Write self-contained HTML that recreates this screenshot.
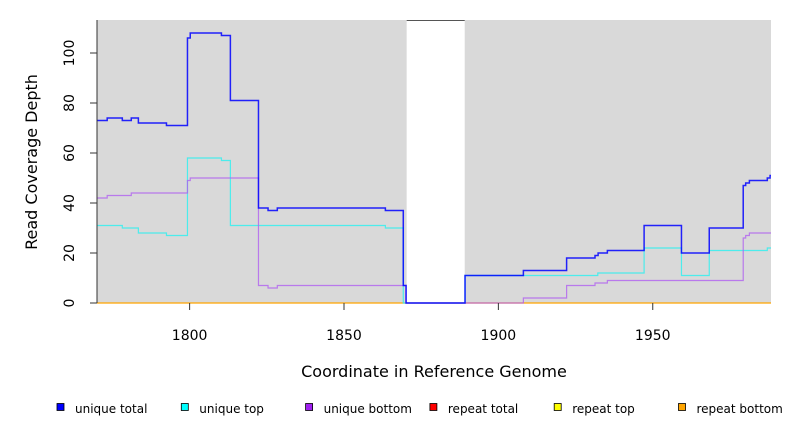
<!DOCTYPE html>
<html><head><meta charset="utf-8"><style>
body{margin:0;background:#fff;}
svg{display:block;font-family:"DejaVu Sans","Liberation Sans",sans-serif;}
</style></head><body>
<svg id="chart" width="792" height="432" viewBox="0 0 792 432">
<rect x="97" y="20" width="674" height="283" fill="#d9d9d9"/>
<rect id="gap" fill="#fff"/>
<line id="gapline" stroke="#555" stroke-width="1"/>
<g id="series"></g>
<g id="axes"></g>
<text x="434" y="377" font-size="16" text-anchor="middle" fill="#000">Coordinate in Reference Genome</text>
<text transform="translate(37,162) rotate(-90)" font-size="16" text-anchor="middle" fill="#000">Read Coverage Depth</text>
<g id="legend"></g>
</svg>
<script>
const xTicks=[1800,1850,1900,1950];
const yTicks=[0,20,40,60,80,100];
const gapRange=[1870.3,1889.1];
const totalX=[1770,1773.3,1778.2,1781.1,1783.4,1792.5,1799.3,1800.2,1810.3,1813.2,1822.3,1825.4,1828.4,1863.4,1869.2,1870.1,1889.2,1908.1,1922.1,1931.3,1932.3,1935.3,1947.2,1959.3,1968.3,1979.3,1980.1,1981.3,1987.1,1988];
const totalY=[73,74,73,74,72,71,106,108,107,81,38,37,38,37,7,0,11,13,18,19,20,21,31,20,30,47,48,49,50,51];
const topX=[1770,1778.2,1783.4,1792.5,1799.3,1810.3,1813.2,1863.4,1869.2,1889.2,1932.2,1947.2,1959.3,1968.3,1987.1];
const topY=[31,30,28,27,58,57,31,30,0,11,12,22,11,21,22];
const botX=[1770,1773.3,1781.1,1799.3,1800.2,1822.3,1825.4,1828.4,1870.1,1908.1,1922.1,1931.3,1935.3,1979.3,1980.1,1981.3];
const botY=[42,43,44,49,50,7,6,7,0,2,7,8,9,26,27,28];
const legendLabels=["unique total","unique top","unique bottom","repeat total","repeat top","repeat bottom"];
const legendColors=["#0000ff","#00ffff","#a020f0","#ff0000","#ffff00","#ffa500"];
const xMin=1770,xMax=1988.3,yMax=113.2;
const L=97,R=771,T=20,B=303;
const sx=v=>L+(v-xMin)/(xMax-xMin)*(R-L);
const sy=v=>B-v/yMax*(B-T);
const NS="http://www.w3.org/2000/svg";
function mk(tag,attrs,parent){const e=document.createElementNS(NS,tag);for(const k in attrs)e.setAttribute(k,attrs[k]);parent.appendChild(e);return e;}
const gap=document.getElementById('gap');
gap.setAttribute('x',sx(gapRange[0]));gap.setAttribute('y',T);gap.setAttribute('width',sx(gapRange[1])-sx(gapRange[0]));gap.setAttribute('height',B-T);
const gl=document.getElementById('gapline');
gl.setAttribute('x1',sx(gapRange[0]));gl.setAttribute('x2',sx(gapRange[1]));gl.setAttribute('y1',T+0.5);gl.setAttribute('y2',T+0.5);
const sg=document.getElementById('series');
function stepPath(xs,ys){let d='M'+sx(xs[0])+','+sy(ys[0]);for(let i=1;i<xs.length;i++){d+=' H'+sx(xs[i])+' V'+sy(ys[i]);}d+=' H'+R;return d;}
const zl=mk('line',{x1:L,x2:R,y1:sy(0),y2:sy(0),stroke:'#ffa500','stroke-width':1.2},sg);


const pt=mk('path',{d:stepPath(topX,topY),fill:'none',stroke:'#33eeee','stroke-width':1.2,opacity:0.85},sg);


const pb=mk('path',{d:stepPath(botX,botY),fill:'none',stroke:'#b060f0','stroke-width':1.2,opacity:0.8},sg);


const pT=mk('path',{d:stepPath(totalX,totalY),fill:'none',stroke:'#0000ff','stroke-width':1.5,opacity:0.85},sg);


const ax=document.getElementById('axes');
const yl=mk('line',{x1:L,x2:L,y1:T,y2:B,stroke:'#333','stroke-width':1},ax);


yTicks.forEach(v=>{
  const t=mk('line',{x1:L-7,x2:L,y1:sy(v),y2:sy(v),stroke:'#333'},ax);
  
  
  const tx=mk('text',{transform:`translate(74,${sy(v)}) rotate(-90)`,'font-size':14,'text-anchor':'middle',fill:'#000'},ax);
  tx.textContent=v;
  
  
});
xTicks.forEach(v=>{
  const t=mk('line',{x1:sx(v),x2:sx(v),y1:B,y2:B+7,stroke:'#333'},ax);
  
  
  const tx=mk('text',{x:sx(v),y:340,'font-size':14,'text-anchor':'middle',fill:'#000'},ax);
  tx.textContent=v;
  
  
});
const lg=document.getElementById('legend');
legendLabels.forEach((lab,i)=>{
  const x0=57+i*124.3;
  const r=mk('rect',{x:x0,y:403.5,width:7,height:7,fill:legendColors[i],stroke:'#000','stroke-width':0.8},lg);
  
  
  const t=mk('text',{x:x0+18,y:413,'font-size':12,fill:'#000'},lg);
  t.textContent=lab;
  
  
});
</script>
</body></html>
